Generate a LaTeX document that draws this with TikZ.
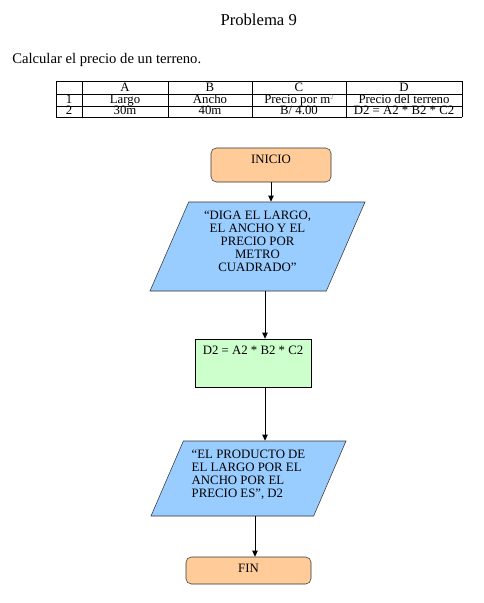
\documentclass[tikz,border=0pt]{standalone}
\usepackage{fontspec}
\setmainfont{Liberation Serif}
\usetikzlibrary{positioning,arrows.meta,shapes.geometric}
\definecolor{Peach}{RGB}{255,204,153}
\definecolor{SkyBlue}{RGB}{153,204,255}
\definecolor{PaleGreen}{RGB}{204,255,204}

\begin{document}
\begin{tikzpicture}[x=0.75pt, y=-0.75pt,
  every node/.style={font=\fontsize{9.6}{9.75}\selectfont, align=center},
  term/.style={draw=black!80, fill=Peach, rounded corners=4pt, inner ysep=0pt, text height=11.25pt},
  proc/.style={draw=black, fill=PaleGreen, inner ysep=0pt, text height=11.25pt},
  io/.style={draw=black!80, fill=SkyBlue, trapezium, trapezium left angle=64, trapezium right angle=116, trapezium stretches body},
  cell/.style={anchor=base, inner sep=0pt},
  arr/.style={-{Triangle[length=4.5pt,width=4pt]}, line width=0.75pt}]
  \useasboundingbox (0,0) rectangle (483,603);

  % header
  \node[anchor=base, inner sep=0pt, font=\fontsize{12.5}{14}\selectfont] (titulo) at (258.7,26) {Problema 9};
  \node[anchor=base west, inner sep=0pt, font=\fontsize{11}{13}\selectfont] (enunciado) at (12,63) {Calcular el precio de un terreno.};

  % table
  \foreach \yy in {81,94,106,117} \draw[line width=0.75pt] (56,\yy) -- (462,\yy);
  \foreach \xx in {56,82,168,252,346,462} \draw[line width=0.75pt] (\xx,81) -- (\xx,117);
  \node[cell] (colA) at (125,91.5) {A};
  \node[cell] (colB) at (210,91.5) {B};
  \node[cell] (colC) at (299,91.5) {C};
  \node[cell] (colD) at (404,91.5) {D};
  \node[cell] (fila1) at (69,103) {1};
  \node[cell] (largo) at (125,103) {Largo};
  \node[cell] (ancho) at (210,103) {Ancho};
  \node[cell] (precio) at (299,103) {Precio por m\raisebox{2.5pt}{\fontsize{5}{5}\selectfont\color{black!45}2}};
  \node[cell] (total) at (404,103) {Precio del terreno};
  \node[cell] (fila2) at (69,114.5) {2};
  \node[cell] (largoV) at (125,114.5) {30m};
  \node[cell] (anchoV) at (210,114.5) {40m};
  \node[cell] (precioV) at (299,114.5) {B/ 4.00};
  \node[cell] (totalV) at (404,114.5) {D2 = A2 * B2 * C2};

  % flowchart
  \node[term, minimum width=90pt, text depth=14.25pt] (inicio) at (271,165) {INICIO};
  \node[io, minimum width=161.25pt, minimum height=66.75pt] (entrada) at (257.5,246.5)
    {“DIGA EL LARGO,\\EL ANCHO Y EL\\PRECIO POR\\METRO\\CUADRADO”\\[-2.3pt]\mbox{}};
  \node[proc, minimum width=87pt, text depth=24.75pt] (proceso) at (253,363) {D2 = A2 * B2 * C2};
  \node[io, align=left, minimum width=146.25pt, minimum height=56.25pt] (salida) at (248.5,478.5)
    {“EL PRODUCTO DE\\EL LARGO POR EL\\ANCHO POR EL\\PRECIO ES”, D2\\[-2.3pt]\mbox{}};
  \node[term, minimum width=93.75pt, text depth=9pt] (fin) at (248.5,570.5) {FIN};

  \coordinate (eje1) at (265,0);
  \coordinate (eje2) at (255,0);
  \draw[arr] (inicio.south) -- (inicio.south |- entrada.north);
  \draw[arr] (entrada.south -| eje1) -- (proceso.north -| eje1);
  \draw[arr] (proceso.south -| eje1) -- (salida.north -| eje1);
  \draw[arr] (salida.south -| eje2) -- (fin.north -| eje2);
\end{tikzpicture}
\end{document}
